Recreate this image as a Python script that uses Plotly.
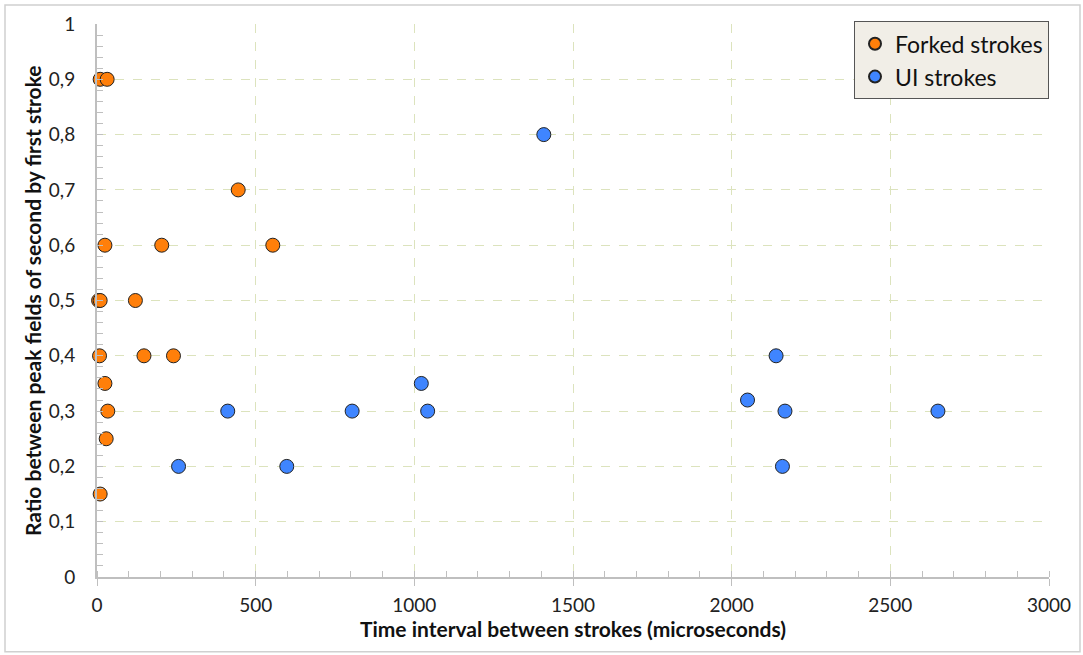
import plotly.graph_objects as go

forked_x = [10, 32, 445, 25, 204, 554, 5, 10, 121, 8, 148, 241, 25, 34, 29, 10]
forked_y = [0.9, 0.9, 0.7, 0.6, 0.6, 0.6, 0.5, 0.5, 0.5, 0.4, 0.4, 0.4, 0.35, 0.3, 0.25, 0.15]

ui_x = [257, 412, 598, 804, 1022, 1042, 1408, 2050, 2140, 2168, 2160, 2650]
ui_y = [0.2, 0.3, 0.2, 0.3, 0.35, 0.3, 0.8, 0.32, 0.4, 0.3, 0.2, 0.3]

series_names = ["Forked strokes", "UI strokes"]
x_ticks = [0, 500, 1000, 1500, 2000, 2500, 3000]
y_ticks = [0, 0.1, 0.2, 0.3, 0.4, 0.5, 0.6, 0.7, 0.8, 0.9, 1]

FONT = "Lato, 'Open Sans', sans-serif"

fig = go.Figure()
fig.add_trace(go.Scatter(
    x=forked_x, y=forked_y, mode="markers", name=series_names[0], legendgroup="a",
    cliponaxis=False,
    marker=dict(size=14, color="#ff7f0a", line=dict(color="#222222", width=1)),
))
fig.add_trace(go.Scatter(
    x=ui_x, y=ui_y, mode="markers", name=series_names[1], legendgroup="b",
    cliponaxis=False,
    marker=dict(size=14, color="#3f85ff", line=dict(color="#222222", width=1)),
))

grid = "#dce3bd"
fig.update_layout(
    width=1083, height=655,
    margin=dict(l=97, r=34, t=22, b=78),
    paper_bgcolor="white", plot_bgcolor="white",
    separators=", ",
    font=dict(family=FONT, color="#222222"),
    showlegend=True,
    legend=dict(
        x=1.0, y=1.005, xanchor="right", yanchor="top",
        bgcolor="#f1eee7", bordercolor="#555555", borderwidth=1,
        font=dict(size=23, family=FONT, color="#111111"),
        itemsizing="constant", traceorder="grouped", tracegroupgap=0,
        itemwidth=30, entrywidth=150, entrywidthmode="pixels",
    ),
    xaxis=dict(
        range=[0, 3000], tickvals=x_ticks, ticktext=[str(v) for v in x_ticks],
        showgrid=True, gridcolor=grid, griddash="dash", gridwidth=1,
        zeroline=False, showline=True, linecolor="#bfbfbf", linewidth=2,
        ticks="outside", ticklen=7, tickcolor="#bfbfbf", tickwidth=1,
        minor=dict(dtick=100, ticks="inside", ticklen=6, tickcolor="#bfbfbf", showgrid=False),
        tickfont=dict(size=19, family=FONT, color="#222222"),
        ticklabelstandoff=3,
        title=dict(text="<b>Time interval between strokes (microseconds)</b>",
                   font=dict(size=21, family=FONT, color="#111111"), standoff=3),
    ),
    yaxis=dict(
        range=[0, 1], tickvals=y_ticks,
        showgrid=True, gridcolor=grid, griddash="dash", gridwidth=1,
        zeroline=False, showline=True, linecolor="#bfbfbf", linewidth=2,
        ticks="inside", ticklen=6, tickcolor="#bfbfbf", tickwidth=1,
        minor=dict(dtick=0.02, ticks="inside", ticklen=6, tickcolor="#bfbfbf", showgrid=False),
        tickfont=dict(size=19, family=FONT, color="#222222"),
        ticklabelstandoff=16,
    ),
)

pw, ph = 1083 - 97 - 34, 655 - 22 - 78

# y-axis title as rotated text at the reference position
fig.add_annotation(
    text="<b>Ratio between peak fields of second by first stroke</b>",
    xref="paper", yref="paper", x=(33 - 97) / pw, y=(577 - 300) / ph,
    xanchor="center", yanchor="middle", textangle=-90, showarrow=False,
    font=dict(size=21, family=FONT, color="#111111"),
)

# outer frame of the figure
fig.add_shape(type="rect", xref="paper", yref="paper",
              x0=(5 - 97) / pw, x1=(1080 - 97) / pw,
              y0=(577 - 652) / ph, y1=(577 - 3) / ph,
              line=dict(color="#d0d0d0", width=1.5), fillcolor="rgba(0,0,0,0)", layer="below")

fig.write_html("out.html", config={"displayModeBar": False},
               post_script="document.body.style.margin='0';")
